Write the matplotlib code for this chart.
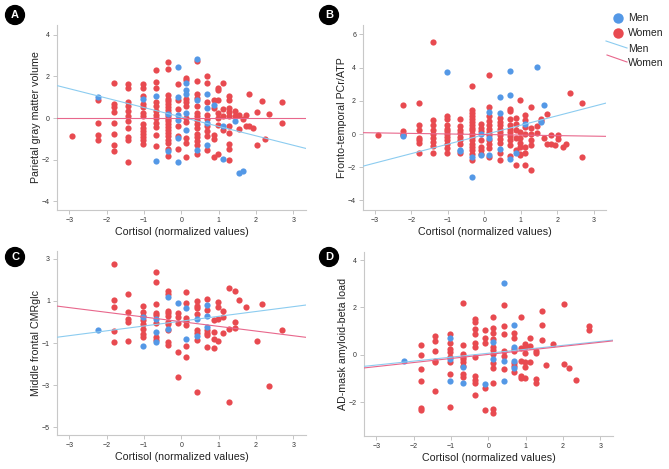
"""
Cortisol vs brain measures, men / women, four panels
"""

import matplotlib.pyplot as plt
from matplotlib.lines import Line2D

plt.rcParams['font.family'] = ['Liberation Sans', 'DejaVu Sans']

BLUE = '#5498E6'
RED = '#E84A50'
MEN_LINE = '#8CCCF0'
WOMEN_LINE = '#E8678C'

xlabel = 'Cortisol (normalized values)'
panel_letters = ['A', 'B', 'C', 'D']
ylabels = ['Parietal gray matter volume', 'Fronto-temporal PCr/ATP',
           'Middle frontal CMRglc', 'AD-mask amyloid-beta load']
yticks = [[-4, -2, 0, 2, 4], [-4, -2, 0, 2, 4, 6], [-5, -3, -1, 1, 3], [-2, 0, 2, 4]]
ylims = [(-4.42, 4.47), (-4.58, 6.57), (-5.38, 3.38), (-3.42, 4.34)]
xticks = [-3, -2, -1, 0, 1, 2, 3]

# points grouped by cortisol value: {x: [y, ...]}
a_men = {-2.24: [1.0], -1.02: [0.9], -0.68: [1.04, -2.05], -0.35: [0.2, -1.6],
         -0.10: [2.45, 1.0, 0.16, -0.08, -0.96, -2.11],
         0.13: [1.68, 1.36, 1.17, 0.24, -0.56], 0.43: [2.86, 0.85, -1.52],
         0.70: [1.17, 0.46, -0.24, -1.28], 0.87: [0.64], 1.11: [-0.37, -1.97],
         1.45: [-0.13], 1.55: [-2.64], 1.64: [-2.53]}
a_women = {-2.92: [-0.85], -2.24: [0.85, -0.26, -0.8, -1.07],
           -1.80: [1.68, 0.69, 0.51, 0.29, -0.26, -0.75, -1.3, -1.6],
           -1.42: [1.62, 1.44, 0.78, 0.59, 0.35, 0.11, -0.16, -0.5, -0.9, -1.07, -2.11],
           -1.02: [1.63, 1.42, 1.04, 0.67, 0.53, 0.22, 0.08, -0.27, -0.48, -0.61, -0.77,
                   -0.91, -1.04, -1.23],
           -0.68: [2.32, 1.71, 1.44, 0.77, 0.56, 0.35, 0.16, -0.02, -0.24, -0.45, -0.8, -1.36],
           -0.35: [2.69, 2.37, 1.09, 0.93, 0.8, 0.67, 0.53, 0.40, 0.24, 0.11, -0.03, -0.16,
                   -0.30, -0.45, -0.58, -0.72, -0.88, -1.04, -1.2, -1.49, -1.81],
           -0.10: [1.65, 0.88, 0.43, -0.4, -0.85, -1.47],
           0.13: [1.92, 1.84, 0.93, 0.77, 0.56, 0.0, -0.21, -0.96, -1.2, -1.89],
           0.43: [2.75, 1.79, 1.15, 0.96, 0.59, 0.24, 0.08, -0.11, -0.29, -0.48, -0.77,
                  -0.91, -1.09, -1.28, -1.71],
           0.70: [2.0, 1.68, 0.77, 0.16, -0.05, -0.4, -0.61, -0.85, -1.55],
           0.87: [0.88, 0.48, -0.8, -1.0, -1.87],
           0.99: [1.44, 1.33, 0.88, 0.24, 0.0, -0.35, -1.73],
           1.11: [1.70, 0.45, 0.11, -0.56],
           1.27: [1.04, 0.88, 0.48, 0.29, 0.08, -0.37, -0.72, -1.23, -1.47, -2.0],
           1.45: [0.35, 0.08], 1.55: [0.13, -0.53], 1.64: [-0.03], 1.72: [0.13, -0.4],
           1.82: [1.17, -0.37], 1.93: [-0.48], 2.03: [0.3, -1.31], 2.15: [0.8],
           2.24: [-0.99], 2.36: [0.19], 2.69: [0.77, -0.26]}

b_men = {-2.24: [-0.14], -1.02: [3.72], -0.68: [-0.95, -1.03], -0.35: [-1.39, -2.6],
         -0.10: [0.02, -1.29], 0.13: [1.33, -0.22, -1.29], 0.43: [2.23, 1.27, -0.89],
         0.70: [3.78, 2.37, -1.49], 0.87: [-1.15], 1.11: [0.58], 1.45: [4.04],
         1.55: [0.72], 1.64: [1.73]}
b_women = {-2.92: [-0.08], -2.24: [1.73, 0.18, 0.02, -0.06],
           -1.80: [1.89, 0.52, 0.26, -0.22, -0.38, -0.54, -1.15],
           -1.42: [5.55, 0.82, 0.52, 0.26, 0.02, -0.22, -0.48, -0.74, -1.15],
           -1.02: [1.09, 0.93, 0.52, 0.32, 0.16, -0.02, -0.18, -0.38, -0.62, -0.82, -1.15],
           -0.68: [0.93, 0.46, 0.26, 0.06, -0.18, -0.38, -0.62, -1.15],
           -0.35: [2.88, 1.43, 1.27, 1.11, 0.93, 0.74, 0.56, 0.38, 0.22, 0.02, -0.18,
                   -0.38, -0.58, -0.78, -0.99, -1.19, -1.59],
           -0.10: [0.58, 0.38, 0.18, -0.34, -0.78, -0.95, -1.19],
           0.13: [3.54, 1.63, 1.07, 0.78, 0.52, 0.32, 0.12, -0.08, -0.38, -0.62, -0.82, -1.39],
           0.43: [0.97, 0.72, 0.52, 0.32, 0.12, -0.08, -0.28, -0.54, -1.15, -1.59],
           0.70: [1.53, 1.37, 0.93, 0.52, 0.32, 0.12, -0.14, -0.38, -0.68, -1.35],
           0.87: [0.97, 0.58, 0.22, -0.24, -0.95, -1.85],
           0.99: [2.03, 0.12, -0.24, -0.54, -0.78, -1.19, -1.29],
           1.11: [1.17, 0.87, 0.42, 0.02, -0.78, -1.15, -1.85],
           1.27: [1.63, 0.36, 0.02, -0.38, -0.68, -2.15],
           1.45: [0.46, 0.06], 1.55: [0.93, 0.78], 1.64: [-0.24], 1.72: [1.23, -0.62],
           1.82: [-0.04, -0.58], 1.93: [-0.68], 2.03: [-0.08, -0.28], 2.15: [-0.78],
           2.24: [-0.62], 2.36: [2.47], 2.69: [1.87, -1.39]}

c_men = {-2.24: [-0.40], -1.02: [0.25, -1.15], -0.68: [0.13, -0.46, -0.97],
         -0.35: [1.21, -0.32], -0.10: [0.92], 0.13: [0.69, -0.83], 0.43: [0.13, -0.67],
         0.70: [0.83, 0.29, -0.22]}
c_women = {-1.80: [2.77, 1.04, 0.70, -0.45, -0.96],
           -1.42: [1.34, 0.46, 0.13, 0.02, -0.89],
           -1.02: [0.78, 0.46, 0.29, 0.10, -0.11, -0.35, -0.59, -0.70],
           -0.68: [2.36, 1.91, 0.86, 0.45, 0.33, -0.06, -0.70, -0.86],
           -0.35: [1.48, 1.34, 0.53, 0.41, 0.29, 0.02, -0.11, -0.38, -0.94, -1.10],
           -0.10: [0.41, 0.22, -0.03, -1.42, -2.61],
           0.13: [1.43, 0.92, 0.19, 0.06, -0.14, -1.13, -1.69],
           0.43: [0.99, 0.76, 0.67, 0.38, -0.38, -0.54, -0.86, -3.31],
           0.70: [1.08, 0.57, -0.38, -0.51, -0.64, -1.21],
           0.87: [0.10, -0.48, -0.83, -1.26], 0.99: [0.94, 0.73, 0.16, -0.92],
           1.11: [0.54, 0.22, -0.51], 1.27: [1.63, -0.35, -3.79],
           1.45: [1.47, -0.02, -0.27], 1.55: [1.05], 1.72: [0.73], 2.03: [-0.92],
           2.15: [0.86], 2.36: [-3.03], 2.69: [-0.40]}

d_men = {-2.25: [-0.25], -1.02: [0.70, -0.17, -1.10], -0.68: [-0.49, -1.17],
         -0.10: [-1.24], 0.13: [0.55, -0.18], 0.43: [3.05, -0.25, -1.10],
         0.70: [1.26, 0.35, -0.24, -0.56]}
d_women = {-1.80: [0.41, 0.0, -0.60, -1.11, -2.23, -2.32],
           -1.42: [0.80, 0.59, 0.15, -0.25, -0.32, -1.54],
           -1.02: [0.87, 0.49, 0.25, 0.14, -0.07, -0.32, -0.81, -2.21],
           -0.68: [2.18, 0.42, 0.04, -0.07, -0.18, -0.32, -0.46, -0.80, -0.94],
           -0.35: [1.50, 1.39, 1.11, 0.88, 0.49, 0.32, -0.10, -0.91, -1.05, -1.19, -1.69],
           -0.10: [1.03, 0.70, 0.52, -1.39, -2.32],
           0.13: [1.59, 1.12, 0.91, 0.66, 0.35, 0.21, 0.04, -0.35, -0.56, -1.19, -2.28, -2.43],
           0.43: [2.11, 1.22, 0.88, 0.15, -0.04, -0.59],
           0.70: [0.94, 0.70, 0.24, 0.15, -0.35, -0.46, -0.74],
           0.87: [1.59, 0.28, -0.25, -0.91, -0.98],
           0.99: [0.46, 0.35, 0.10, -0.28, -0.49, -0.98],
           1.11: [0.73, 0.38, -0.32], 1.27: [0.18, 0.10, -1.03, -1.17],
           1.45: [1.87, 1.26, 0.63], 1.55: [-0.42], 1.72: [0.45], 2.03: [2.16, -0.38],
           2.15: [-0.56], 2.36: [-1.05], 2.69: [1.22, 1.03]}

# fit lines: (intercept, slope)
men_fits = [(0.05, -0.453), (-0.04, 0.57), (0.04, 0.23), (0.07, 0.166)]
women_fits = [(0.0, 0.0), (-0.03, -0.033), (0.015, -0.223), (0.02, 0.171)]

men_data = [a_men, b_men, c_men, d_men]
women_data = [a_women, b_women, c_women, d_women]


def flat(groups):
    xs, ys = [], []
    for x, vals in groups.items():
        xs += [x] * len(vals)
        ys += vals
    return xs, ys


W, H = 669, 469
fig = plt.figure(figsize=(6.69, 4.69), dpi=100)

# axes boxes in pixels: left, top, right, bottom
boxes = [(57, 25, 306, 210), (363, 25, 606, 210), (57, 251, 306, 435), (364, 252, 613, 436)]
badges = [(15, 15), (329, 15), (15, 257), (329, 257)]

for i in range(4):
    l, t, r, b = boxes[i]
    ax = fig.add_axes([l / W, 1 - b / H, (r - l) / W, (b - t) / H])
    wx, wy = flat(women_data[i])
    mx, my = flat(men_data[i])
    ax.scatter(wx, wy, s=20, color=RED, linewidths=0, zorder=2)
    ax.scatter(mx, my, s=20, color=BLUE, linewidths=0, zorder=3)
    ax.axline((0, men_fits[i][0]), slope=men_fits[i][1], color=MEN_LINE, lw=0.8, zorder=4)
    ax.axline((0, women_fits[i][0]), slope=women_fits[i][1], color=WOMEN_LINE, lw=0.8, zorder=4)

    ax.set_xlim(-3.33, 3.34)
    ax.set_ylim(*ylims[i])
    ax.set_xticks(xticks)
    ax.set_yticks(yticks[i])
    ax.tick_params(labelsize=5, colors='#bbbbbb', labelcolor='#333333', length=3, width=0.6, pad=2)
    for s in ['top', 'right']:
        ax.spines[s].set_visible(False)
    for s in ['left', 'bottom']:
        ax.spines[s].set_color('#c8c8c8')
        ax.spines[s].set_linewidth(0.8)
    ax.set_xlabel(xlabel, fontsize=7.7, color='#222222', labelpad=2)
    ax.set_ylabel(ylabels[i], fontsize=7.7, color='#222222', labelpad=1)

    bx, by = badges[i]
    fig.text(bx / W, 1 - by / H, panel_letters[i], fontsize=8, fontweight='bold', color='white',
             ha='center', va='center',
             bbox=dict(boxstyle='circle,pad=0.4', fc='black', ec='black'))

# legend (figure level)
fig.add_artist(Line2D([618 / W], [1 - 18 / H], marker='o', ms=7.5, color=BLUE, mec='none',
                      transform=fig.transFigure))
fig.add_artist(Line2D([618 / W], [1 - 33 / H], marker='o', ms=7.5, color=RED, mec='none',
                      transform=fig.transFigure))
fig.add_artist(Line2D([606 / W, 627 / W], [1 - 41 / H, 1 - 48 / H], color=MEN_LINE, lw=0.8,
                      transform=fig.transFigure))
fig.add_artist(Line2D([607 / W, 627 / W], [1 - 55 / H, 1 - 62 / H], color=WOMEN_LINE, lw=0.8,
                      transform=fig.transFigure))
for txt, ty in [('Men', 18), ('Women', 33), ('Men', 49), ('Women', 63)]:
    fig.text(628 / W, 1 - ty / H, txt, fontsize=7.5, color='#222222', va='center', ha='left')

plt.savefig('out.png', dpi=100)
